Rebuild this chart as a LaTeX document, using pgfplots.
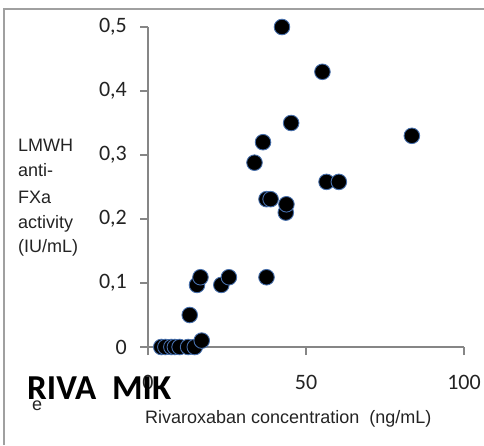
\documentclass[border=0pt]{standalone}
\usepackage{pgfplots}
\pgfplotsset{compat=1.18}
\usepackage{fontspec}
\setmainfont{Liberation Sans}
\newfontfamily\calib{Carlito}
\definecolor{axisgray}{RGB}{134,134,134}
\definecolor{framegray}{RGB}{160,160,160}
\definecolor{halo}{RGB}{70,110,170}
\definecolor{txt}{RGB}{35,35,35}

\begin{document}
\begin{tikzpicture}[x=1pt,y=1pt]
  \path[use as bounding box] (0,0) rectangle (484,445);
  % outer frame (only top and left edges are visible)
  \draw[framegray, line width=2pt] (3.5,0) -- (3.5,435.5) -- (484,435.5);

  \begin{axis}[
      at={(148pt,98pt)}, anchor=south west,
      scale only axis,
      width=316pt, height=320pt,
      xmin=0, xmax=100, ymin=0, ymax=0.5,
      xtick={0,50,100},
      ytick={0,0.1,0.2,0.3,0.4,0.5},
      axis lines*=left,
      axis line style={draw=axisgray, line width=1.5pt},
      tick style={draw=axisgray, line width=1.5pt},
      tick align=outside,
      major tick length=8pt,
      clip=false,
      /pgf/number format/.cd, use comma, fixed, precision=1, assume math mode=true,
      /pgfplots/.cd,
      tick label style={font=\calib\fontsize{22}{22}\selectfont, text=txt, inner sep=0pt},
      yticklabel style={anchor=east, xshift=-13pt},
      xticklabel style={anchor=north, yshift=-20pt},
    ]
    \addplot[only marks, mark=*, mark size=7.8pt,
             mark options={fill=black, draw=halo, line width=0.9pt}]
      coordinates {
        (4.2,0) (5.5,0) (7.4,0) (8.5,0) (10.0,0) (12.7,0) (14.8,0)
        (17.0,0.01) (13.2,0.05)
        (15.5,0.097) (16.6,0.109) (23.2,0.097) (25.6,0.109)
        (37.5,0.109)
        (43.6,0.21) (43.8,0.223) (37.5,0.231) (38.8,0.231)
        (56.5,0.258) (60.4,0.258)
        (33.7,0.288) (36.4,0.32) (45.3,0.35) (83.5,0.33)
        (55.2,0.43) (42.4,0.5)
      };
  \end{axis}

  % y label, one line per row
  \begin{scope}[every node/.style={anchor=base west, inner sep=0pt, text=txt,
                 font=\fontsize{18}{18}\selectfont}]
    \node at (18,445-152) {LMWH};
    \node at (18,445-177) {anti-};
    \node at (18,445-203) {FXa};
    \node at (18,445-228) {activity};
    \node at (18,445-252) {(IU/mL)};
    \node at (145,445-423) {Rivaroxaban concentration\ \ (ng/mL)};
    \node at (32,445-410) {e};
  \end{scope}

  \node[anchor=base west, inner sep=0pt, font=\calib\bfseries\fontsize{35}{35}\selectfont]
    at (27,445-399) {RIVA\ \ MIK};
\end{tikzpicture}
\end{document}
